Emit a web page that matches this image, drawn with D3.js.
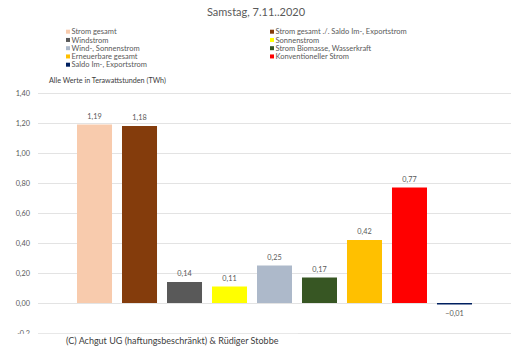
<!DOCTYPE html>
<html>
<head>
<meta charset="utf-8">
<script src="https://cdn.jsdelivr.net/npm/d3@7"></script>
<style>
  body { margin: 0; background: #fff; }
  svg { display: block; }
  text { font-family: Lato, "Open Sans", sans-serif; }
</style>
</head>
<body>
<div id="chart"></div>
<script>
const categories = [
  'Strom gesamt',
  'Strom gesamt ./. Saldo Im-, Exportstrom',
  'Windstrom',
  'Sonnenstrom',
  'Wind-, Sonnenstrom',
  'Strom Biomasse, Wasserkraft',
  'Erneuerbare gesamt',
  'Konventioneller Strom',
  'Saldo Im-, Exportstrom'
];
const values = [1.19, 1.18, 0.14, 0.11, 0.25, 0.17, 0.42, 0.77, -0.01];
const colors = ['#F8CBAD', '#843C0C', '#595959', '#FFFF00', '#ADB9CA', '#375623', '#FFC000', '#FF0000', '#002060'];
const yTicks = [-0.2, 0, 0.2, 0.4, 0.6, 0.8, 1.0, 1.2, 1.4];

const width = 513, height = 352;
const plot = {left: 38, right: 511, top: 93, bottom: 333};
const fmt = d3.format('.2f');
const de = v => fmt(v).replace('.', ',');

const svg = d3.select('#chart').append('svg')
  .attr('width', width)
  .attr('height', height);

const x = d3.scaleBand()
  .domain(categories)
  .range([plot.left, plot.right])
  .paddingInner(0.222)
  .paddingOuter(0.867);

const y = d3.scaleLinear()
  .domain([-0.2, 1.4])
  .range([plot.bottom, plot.top]);

// title
svg.append('text')
  .attr('x', 256).attr('y', 16)
  .attr('text-anchor', 'middle')
  .attr('fill', '#595959')
  .style('font-size', '11px')
  .text('Samstag, 7.11..2020');

// legend, two columns filled row by row
const legend = svg.append('g');
categories.forEach((c, i) => {
  const col = i % 2, row = Math.floor(i / 2);
  const lx = col === 0 ? 66 : 270;
  const ly = 31.7 + row * 8.25;
  legend.append('rect')
    .attr('x', lx).attr('y', ly - 2)
    .attr('width', 4).attr('height', 4)
    .attr('fill', colors[i]);
  legend.append('text')
    .attr('x', lx + 5.5).attr('y', ly)
    .attr('dy', '0.35em')
    .attr('fill', '#595959')
    .style('font-size', '7.5px')
    .text(c);
});

svg.append('text')
  .attr('x', 49).attr('y', 80)
  .attr('dy', '0.35em')
  .attr('fill', '#404040')
  .style('font-size', '7.2px')
  .text('Alle Werte in Terawattstunden (TWh)');

// gridlines + y axis
const yAxis = d3.axisLeft(y)
  .tickValues(yTicks)
  .tickSize(-(plot.right - plot.left))
  .tickPadding(8)
  .tickFormat(d => d === -0.2 ? '-0,2' : de(d));

svg.append('g')
  .attr('transform', `translate(${plot.left},0)`)
  .call(yAxis)
  .call(g => g.select('.domain').remove())
  .call(g => g.selectAll('.tick line').attr('stroke', '#D9D9D9').attr('stroke-width', 0.75))
  .call(g => g.selectAll('.tick text')
    .attr('fill', '#595959')
    .style('font-size', '7.3px')
    .style('font-family', 'Lato, "Open Sans", sans-serif'));

// bars
svg.append('g').selectAll('rect')
  .data(categories)
  .join('rect')
  .attr('x', d => x(d))
  .attr('width', x.bandwidth())
  .attr('y', (d, i) => y(Math.max(0, values[i])))
  .attr('height', (d, i) => Math.abs(y(values[i]) - y(0)))
  .attr('fill', (d, i) => colors[i]);

// data labels
svg.append('g').selectAll('text')
  .data(categories)
  .join('text')
  .attr('x', d => x(d) + x.bandwidth() / 2)
  .attr('y', (d, i) => values[i] >= 0 ? y(values[i]) - 6 : y(values[i]) + 11)
  .attr('text-anchor', 'middle')
  .attr('fill', '#595959')
  .style('font-size', '7.3px')
  .text((d, i) => de(values[i]));

// copyright box sits over the lower left of the chart
svg.append('rect')
  .attr('x', 0).attr('y', 333.8)
  .attr('width', 298).attr('height', 19)
  .attr('fill', '#fff');

svg.append('text')
  .attr('x', 66).attr('y', 341)
  .attr('dy', '0.35em')
  .attr('fill', '#404040')
  .style('font-size', '9px')
  .text('(C) Achgut UG (haftungsbeschränkt) & Rüdiger Stobbe');
</script>
</body>
</html>
